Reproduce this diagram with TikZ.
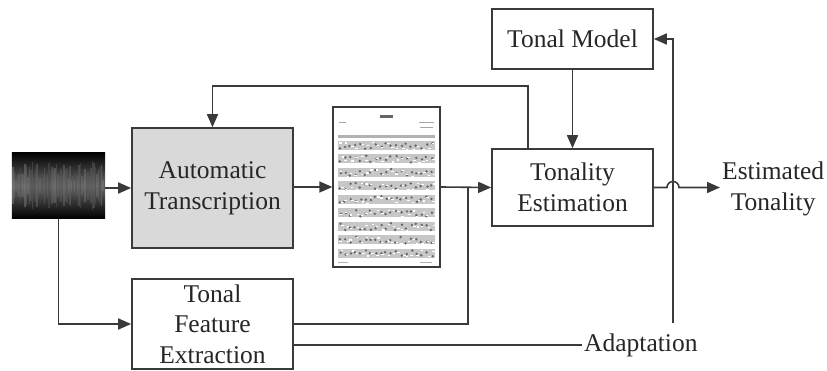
\documentclass[tikz,border=0pt]{standalone}
\usepackage{fontspec}
\setmainfont{Liberation Serif}
\newfontfamily\labelfont{Liberation Serif}
\usetikzlibrary{arrows.meta}
\definecolor{ink}{HTML}{3A3A3A}
\definecolor{boxgray}{HTML}{D9D9D9}
\begin{document}
\begin{tikzpicture}[x=1pt,y=-1pt,
  txt/.style={font=\labelfont\fontsize{25.5}{30.6}\selectfont, text=black!85, align=center},
  blk/.style={txt, draw=ink, line width=1.6pt, minimum width=161pt, inner sep=0pt},
  link/.style={draw=ink, line width=1.6pt},
  arr/.style={link, -{Triangle[length=13pt,width=11pt]}}]
\useasboundingbox (0,0) rectangle (827,371);

% audio signal
\node[fill=black, minimum width=93pt, minimum height=66pt, inner sep=0pt] (wav) at (58.5,185.5) {};
\begin{scope}
  \clip (wav.north west) rectangle (wav.south east);
  \shade[top color=black, bottom color=black, middle color=white!40!black]
    (wav.north west) rectangle (wav.south east);
  \pgfmathsetseed{11}
  \foreach \i in {0,...,61} {
    \pgfmathsetmacro\h{5+20*rnd}
    \pgfmathsetmacro\g{30+20*rnd}
    \draw[white!\g!black, line width=1.3pt, opacity=0.5]
      (13+1.5*\i,185.5-\h) -- (13+1.5*\i,185.5+\h);
  }
\end{scope}

% processing blocks
\node[blk, fill=boxgray, minimum height=120pt] (at) at (212.5,188) {Automatic\\Transcription};
\node[blk, fill=white, minimum height=90pt] (tfe) at (212.5,324) {Tonal\\Feature\\Extraction};
\node[blk, fill=white, minimum height=77pt] (te) at (572.5,187.5) {Tonality\\Estimation};
\node[blk, fill=white, minimum height=60pt] (tm) at (572.5,39) {Tonal Model};

% score page
\node[draw=ink, line width=1.4pt, fill=white, minimum width=107pt, minimum height=160pt, inner sep=0pt] (sheet) at (386.5,187) {};
\fill[black!60] (380,115.5) rectangle (393,118);
\fill[black!35] (339,122) rectangle (346,123.5);
\fill[black!35] (419,122) rectangle (434,123.5);
\fill[black!35] (420,127) rectangle (433,128.5);
\fill[black!30] (338,135) rectangle (435,138);
\pgfmathsetseed{5}
\foreach \r in {0,...,8} {
  \pgfmathsetmacro\yy{141+13.5*\r}
  \fill[black!22] (338,\yy) rectangle (435,\yy+9);
  \foreach \k in {0,...,18} {
    \pgfmathsetmacro\xa{339+5.1*\k+2*rnd}
    \pgfmathsetmacro\ya{\yy+1+7*rnd}
    \fill[black!60] (\xa,\ya) circle[radius=1.3pt];
    \pgfmathsetmacro\xb{339+5.1*\k+3*rnd}
    \pgfmathsetmacro\yb{\yy+1+7*rnd}
    \fill[white] (\xb,\yb) rectangle +(2.5,1.2);
  }
}
\fill[black!30] (338,262) rectangle (348,263.5);
\fill[black!30] (420,262) rectangle (432,263.5);

% labels
\node[txt, anchor=west, inner sep=2pt] (est) at (720,189) {Estimated\\Tonality};
\node[txt, anchor=west, inner sep=2pt] (adapt) at (582,345) {Adaptation};

% signal flow
\coordinate (join) at (468,187);
\coordinate (fbtop) at (0,86);
\coordinate (adup) at (673,323);

\draw[arr] (wav.east |- at.west) -- (at.west);
\draw[arr] (wav.south) |- (tfe.west);
\draw[arr] (at.east |- sheet.west) -- (sheet.west);
\draw[arr] (sheet.east) -- (te.west);
\draw[link] (tfe.east) -| (join);
\draw[link] ([yshift=-21pt]tfe.east) -- (adapt.west);
\draw[arr] (tm.south) -- (te.north);
\draw[arr] ([xshift=-44.5pt]te.north) |- (fbtop -| at.north) -- (at.north);
\draw[arr] (te.east) -- (667,187.5) arc[start angle=180, end angle=0, radius=6pt] -- (est.west |- te.east);
\draw[arr] (adup) |- (tm.east);
\end{tikzpicture}
\end{document}
